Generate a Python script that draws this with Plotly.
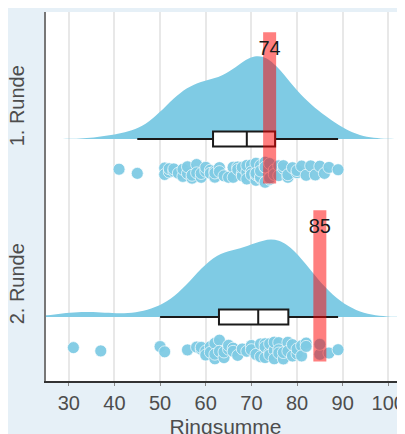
import plotly.graph_objects as go

# ---------------- data ----------------
rounds = ["1. Runde", "2. Runde"]
round_pos = [1.0, 0.0]

scores_r1 = [41, 45, 51, 51, 52, 52, 53, 53, 54, 55, 55, 56, 56, 57, 57, 58, 58, 59, 59,
             60, 60, 61, 61, 62, 62, 62, 63, 63, 64, 65, 66, 66, 67, 67, 68,
             68, 68, 69, 69, 69, 70, 70, 70, 71, 71, 71, 71, 72, 72, 72, 72, 73, 73, 73,
             73, 74, 74, 74, 75, 75, 75, 76, 76, 77, 77, 78, 78, 79, 80, 80, 81, 82, 83,
             84, 85, 86, 87, 89]
scores_r2 = [31, 37, 50, 51, 56, 58, 59, 59, 60, 60, 61, 61, 62, 62, 62, 63, 63, 64, 64,
             65, 65, 66, 66, 67, 68, 69, 70, 70, 71, 72, 72, 73, 73, 73, 74, 74, 74, 75,
             75, 75, 76, 76, 76, 77, 77, 78, 78, 79, 79, 80, 80, 81, 81, 82, 82, 85, 85,
             87, 89]
scores = [scores_r1, scores_r2]

box_q1 = [61.6, 62.9]
box_median = [69.0, 71.5]
box_q3 = [75.2, 78.1]
box_lower = [45.0, 50.0]
box_upper = [89.0, 89.0]

marked_value = [74, 85]

x_ticks = [30, 40, 50, 60, 70, 80, 90, 100]

# ---------------- style ----------------
BLUE = "rgb(127,203,228)"
RED = "rgba(255,0,0,0.5)"
FONT = "Liberation Sans, Arial, Helvetica, sans-serif"

fig = go.Figure()

violin_width = [0.93, 0.87]
for i, r in enumerate(rounds):
    p = round_pos[i]
    fig.add_trace(go.Violin(
        x=scores[i], y0=p, orientation="h", side="positive",
        width=violin_width[i], spanmode="manual", span=[15, 115],
        fillcolor=BLUE, line=dict(width=0, color=BLUE), opacity=1,
        points=False, box_visible=False, meanline_visible=False,
        showlegend=False, hoverinfo="skip", name=r,
    ))

for i, r in enumerate(rounds):
    p = round_pos[i]
    fig.add_trace(go.Box(
        y=[p], q1=[box_q1[i]], median=[box_median[i]], q3=[box_q3[i]],
        lowerfence=[box_lower[i]], upperfence=[box_upper[i]],
        orientation="h", width=0.085, whiskerwidth=0,
        fillcolor="white", line=dict(color="#1a1a1a", width=2),
        boxpoints=False, showlegend=False, hoverinfo="skip", name=r,
    ))

for i, r in enumerate(rounds):
    p = round_pos[i]
    fig.add_trace(go.Box(
        x=scores[i], y0=p - 0.18, orientation="h", width=0.13,
        boxpoints="all", jitter=1, pointpos=0,
        fillcolor="rgba(0,0,0,0)", line=dict(width=0, color="rgba(0,0,0,0)"),
        marker=dict(color=BLUE, size=12, opacity=0.95,
                    line=dict(color="rgba(255,255,255,0.7)", width=1)),
        showlegend=False, hoverinfo="skip", name=r,
    ))

for i, r in enumerate(rounds):
    p = round_pos[i]
    fig.add_trace(go.Scatter(
        x=[marked_value[i], marked_value[i]], y=[p - 0.25, p + 0.6],
        mode="lines", line=dict(color=RED, width=13),
        showlegend=False, hoverinfo="skip",
    ))
    fig.add_trace(go.Scatter(
        x=[marked_value[i]], y=[p + 0.5], mode="text",
        text=[str(marked_value[i])],
        textfont=dict(family=FONT, size=20, color="#1a1a1a"),
        showlegend=False, hoverinfo="skip",
    ))

fig.update_layout(
    width=405, height=434,
    margin=dict(l=38, r=8, t=4, b=61),
    paper_bgcolor="#e6f0f7", plot_bgcolor="white",
    font=dict(family=FONT, color="#4d4d4d"),
    boxmode="overlay", violinmode="overlay",
    showlegend=False,
)
fig.update_xaxes(
    range=[25, 103.66], tickvals=x_ticks, ticktext=[str(t) for t in x_ticks],
    automargin=False,
    showgrid=True, gridcolor="#e8e8e8", gridwidth=1.5,
    showline=True, linecolor="#333333", linewidth=1.5,
    ticks="outside", ticklen=3, tickcolor="#888888",
    tickfont=dict(size=20, color="#4d4d4d"),
    title=dict(text="Ringsumme", font=dict(size=21, color="#4d4d4d"), standoff=7),
    zeroline=False,
)
fig.update_yaxes(
    range=[-0.3596, 1.7135], automargin=False,
    tickvals=[p + 0.17 for p in round_pos], ticktext=rounds, tickangle=-90,
    showgrid=False, zeroline=False,
    showline=True, linecolor="#777777", linewidth=1.5,
    ticks="", ticklabelstandoff=12,
    tickfont=dict(size=20, color="#4d4d4d"),
)

fig.write_html("out.html")
